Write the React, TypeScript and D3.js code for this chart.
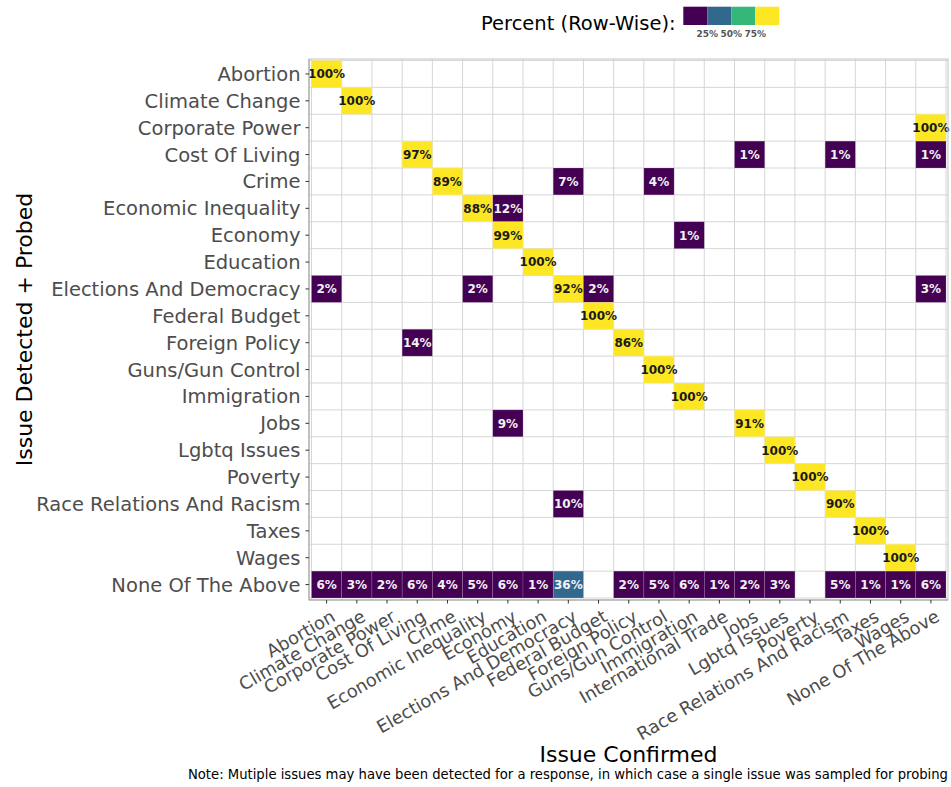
import * as d3 from "d3";

// columns: issue confirmed
const confirmedIssues = [
  "Abortion",
  "Climate Change",
  "Corporate Power",
  "Cost Of Living",
  "Crime",
  "Economic Inequality",
  "Economy",
  "Education",
  "Elections And Democracy",
  "Federal Budget",
  "Foreign Policy",
  "Guns/Gun Control",
  "Immigration",
  "International Trade",
  "Jobs",
  "Lgbtq Issues",
  "Poverty",
  "Race Relations And Racism",
  "Taxes",
  "Wages",
  "None Of The Above",
];

// rows: issue detected + probed
const detectedIssues = [
  "Abortion",
  "Climate Change",
  "Corporate Power",
  "Cost Of Living",
  "Crime",
  "Economic Inequality",
  "Economy",
  "Education",
  "Elections And Democracy",
  "Federal Budget",
  "Foreign Policy",
  "Guns/Gun Control",
  "Immigration",
  "Jobs",
  "Lgbtq Issues",
  "Poverty",
  "Race Relations And Racism",
  "Taxes",
  "Wages",
  "None Of The Above",
];

// [detected, confirmed, percent]
const cells: [string, string, number][] = [
  ["Abortion", "Abortion", 100],
  ["Climate Change", "Climate Change", 100],
  ["Corporate Power", "None Of The Above", 100],
  ["Cost Of Living", "Cost Of Living", 97],
  ["Cost Of Living", "Jobs", 1],
  ["Cost Of Living", "Race Relations And Racism", 1],
  ["Cost Of Living", "None Of The Above", 1],
  ["Crime", "Crime", 89],
  ["Crime", "Elections And Democracy", 7],
  ["Crime", "Guns/Gun Control", 4],
  ["Economic Inequality", "Economic Inequality", 88],
  ["Economic Inequality", "Economy", 12],
  ["Economy", "Economy", 99],
  ["Economy", "Immigration", 1],
  ["Education", "Education", 100],
  ["Elections And Democracy", "Abortion", 2],
  ["Elections And Democracy", "Economic Inequality", 2],
  ["Elections And Democracy", "Elections And Democracy", 92],
  ["Elections And Democracy", "Federal Budget", 2],
  ["Elections And Democracy", "None Of The Above", 3],
  ["Federal Budget", "Federal Budget", 100],
  ["Foreign Policy", "Cost Of Living", 14],
  ["Foreign Policy", "Foreign Policy", 86],
  ["Guns/Gun Control", "Guns/Gun Control", 100],
  ["Immigration", "Immigration", 100],
  ["Jobs", "Economy", 9],
  ["Jobs", "Jobs", 91],
  ["Lgbtq Issues", "Lgbtq Issues", 100],
  ["Poverty", "Poverty", 100],
  ["Race Relations And Racism", "Elections And Democracy", 10],
  ["Race Relations And Racism", "Race Relations And Racism", 90],
  ["Taxes", "Taxes", 100],
  ["Wages", "Wages", 100],
  ["None Of The Above", "Abortion", 6],
  ["None Of The Above", "Climate Change", 3],
  ["None Of The Above", "Corporate Power", 2],
  ["None Of The Above", "Cost Of Living", 6],
  ["None Of The Above", "Crime", 4],
  ["None Of The Above", "Economic Inequality", 5],
  ["None Of The Above", "Economy", 6],
  ["None Of The Above", "Education", 1],
  ["None Of The Above", "Elections And Democracy", 36],
  ["None Of The Above", "Foreign Policy", 2],
  ["None Of The Above", "Guns/Gun Control", 5],
  ["None Of The Above", "Immigration", 6],
  ["None Of The Above", "International Trade", 1],
  ["None Of The Above", "Jobs", 2],
  ["None Of The Above", "Lgbtq Issues", 3],
  ["None Of The Above", "Race Relations And Racism", 5],
  ["None Of The Above", "Taxes", 1],
  ["None Of The Above", "Wages", 1],
  ["None Of The Above", "None Of The Above", 6],
];

const binBreaks = [25, 50, 75];
const binLabels = ["25%", "50%", "75%"];
const binColors = ["#440154", "#31688E", "#35B779", "#FDE725"];

const W = 951;
const H = 787;
const panel = { left: 309, right: 948, top: 59, bottom: 600 };
const font = "DejaVu Sans, sans-serif";

const App = () => {
  const x = d3
    .scaleBand()
    .domain(confirmedIssues)
    .range([panel.left + 2.5, panel.right - 2]);
  const y = d3
    .scaleBand()
    .domain(detectedIssues)
    .range([panel.top + 1.5, panel.bottom - 2]);
  const color = d3.scaleThreshold<number, string>().domain(binBreaks).range(binColors);

  const xEdges = confirmedIssues.map((c) => x(c)!).concat([x.range()[1]]);
  const yEdges = detectedIssues.map((r) => y(r)!).concat([y.range()[1]]);

  // legend
  const legKey = 24;
  const legX = 683.3;
  const legY = 6.7;
  const legH = 18.3;

  return (
    <svg
      width={W}
      height={H}
      viewBox={`0 0 ${W} ${H}`}
      style={{ position: "absolute", left: 0, top: 0, background: "white" }}
      fontFamily={font}
    >
      <rect x={0} y={0} width={W} height={H} fill="white" />

      {/* legend */}
      <text x={481} y={30} fontSize={19.5} fill="#000">
        Percent (Row-Wise):
      </text>
      {binColors.map((c, i) => (
        <rect key={c} x={legX + i * legKey} y={legY} width={legKey} height={legH} fill={c} />
      ))}
      {binLabels.map((l, i) => (
        <text
          key={l}
          x={legX + (i + 1) * legKey}
          y={37}
          fontSize={9}
          fontWeight="bold"
          fill="#555"
          textAnchor="middle"
        >
          {l}
        </text>
      ))}

      {/* grid */}
      <g stroke="#d6d6d6" strokeWidth={1}>
        {xEdges.map((e, i) => (
          <line key={"vx" + i} x1={e} x2={e} y1={panel.top} y2={panel.bottom} />
        ))}
        {yEdges.map((e, i) => (
          <line key={"hy" + i} x1={panel.left} x2={panel.right} y1={e} y2={e} />
        ))}
      </g>

      {/* tiles */}
      <g>
        {cells.map(([r, c, v]) => (
          <rect
            key={r + c}
            x={x(c)!}
            y={y(r)!}
            width={x.bandwidth()}
            height={y.bandwidth()}
            fill={color(v)}
            stroke="rgba(255,255,255,0.25)"
            strokeWidth={0.6}
          />
        ))}
      </g>
      <g fontSize={12} fontWeight="bold" textAnchor="middle">
        {cells.map(([r, c, v]) => (
          <text
            key={"t" + r + c}
            x={x(c)! + x.bandwidth() / 2}
            y={y(r)! + y.bandwidth() / 2}
            dy="0.36em"
            fill={v >= 75 ? "#1a1a1a" : "#f2f2f2"}
          >
            {v}%
          </text>
        ))}
      </g>

      {/* panel frame */}
      <rect
        x={panel.left}
        y={panel.top}
        width={panel.right - panel.left}
        height={panel.bottom - panel.top}
        fill="none"
        stroke="#c4c4c4"
        strokeWidth={1}
      />
      <line x1={panel.left} x2={panel.left} y1={panel.top} y2={panel.bottom} stroke="#a0a0a0" />
      <line x1={panel.left} x2={panel.right} y1={panel.bottom} y2={panel.bottom} stroke="#a0a0a0" />

      {/* y axis */}
      <g>
        {detectedIssues.map((r) => {
          const cy = y(r)! + y.bandwidth() / 2;
          return (
            <g key={"y" + r}>
              <line x1={panel.left - 3.5} x2={panel.left} y1={cy} y2={cy} stroke="#333" />
              <text
                x={panel.left - 8.5}
                y={cy}
                dy="0.36em"
                textAnchor="end"
                fontSize={19.5}
                fill="#4d4d4d"
              >
                {r}
              </text>
            </g>
          );
        })}
      </g>

      {/* x axis */}
      <g>
        {confirmedIssues.map((c) => {
          const cx = x(c)! + x.bandwidth() / 2;
          return (
            <g key={"x" + c}>
              <line x1={cx} x2={cx} y1={panel.bottom} y2={panel.bottom + 3.5} stroke="#333" />
              <text
                transform={`translate(${cx + 3.5},${panel.bottom + 9}) rotate(-30)`}
                dy="0.72em"
                textAnchor="end"
                fontSize={17.8}
                fill="#4d4d4d"
              >
                {c}
              </text>
            </g>
          );
        })}
      </g>

      {/* axis titles */}
      <text
        x={(panel.left + panel.right) / 2}
        y={762}
        textAnchor="middle"
        fontSize={22}
        fill="#000"
      >
        Issue Confirmed
      </text>
      <text
        transform={`translate(32,${(panel.top + panel.bottom) / 2}) rotate(-90)`}
        textAnchor="middle"
        fontSize={22}
        fill="#000"
      >
        Issue Detected + Probed
      </text>
      <text x={948} y={779} textAnchor="end" fontSize={13.2} fill="#000">
        Note: Mutiple issues may have been detected for a response, in which case a single issue was sampled for probing
      </text>
    </svg>
  );
};

export default App;
